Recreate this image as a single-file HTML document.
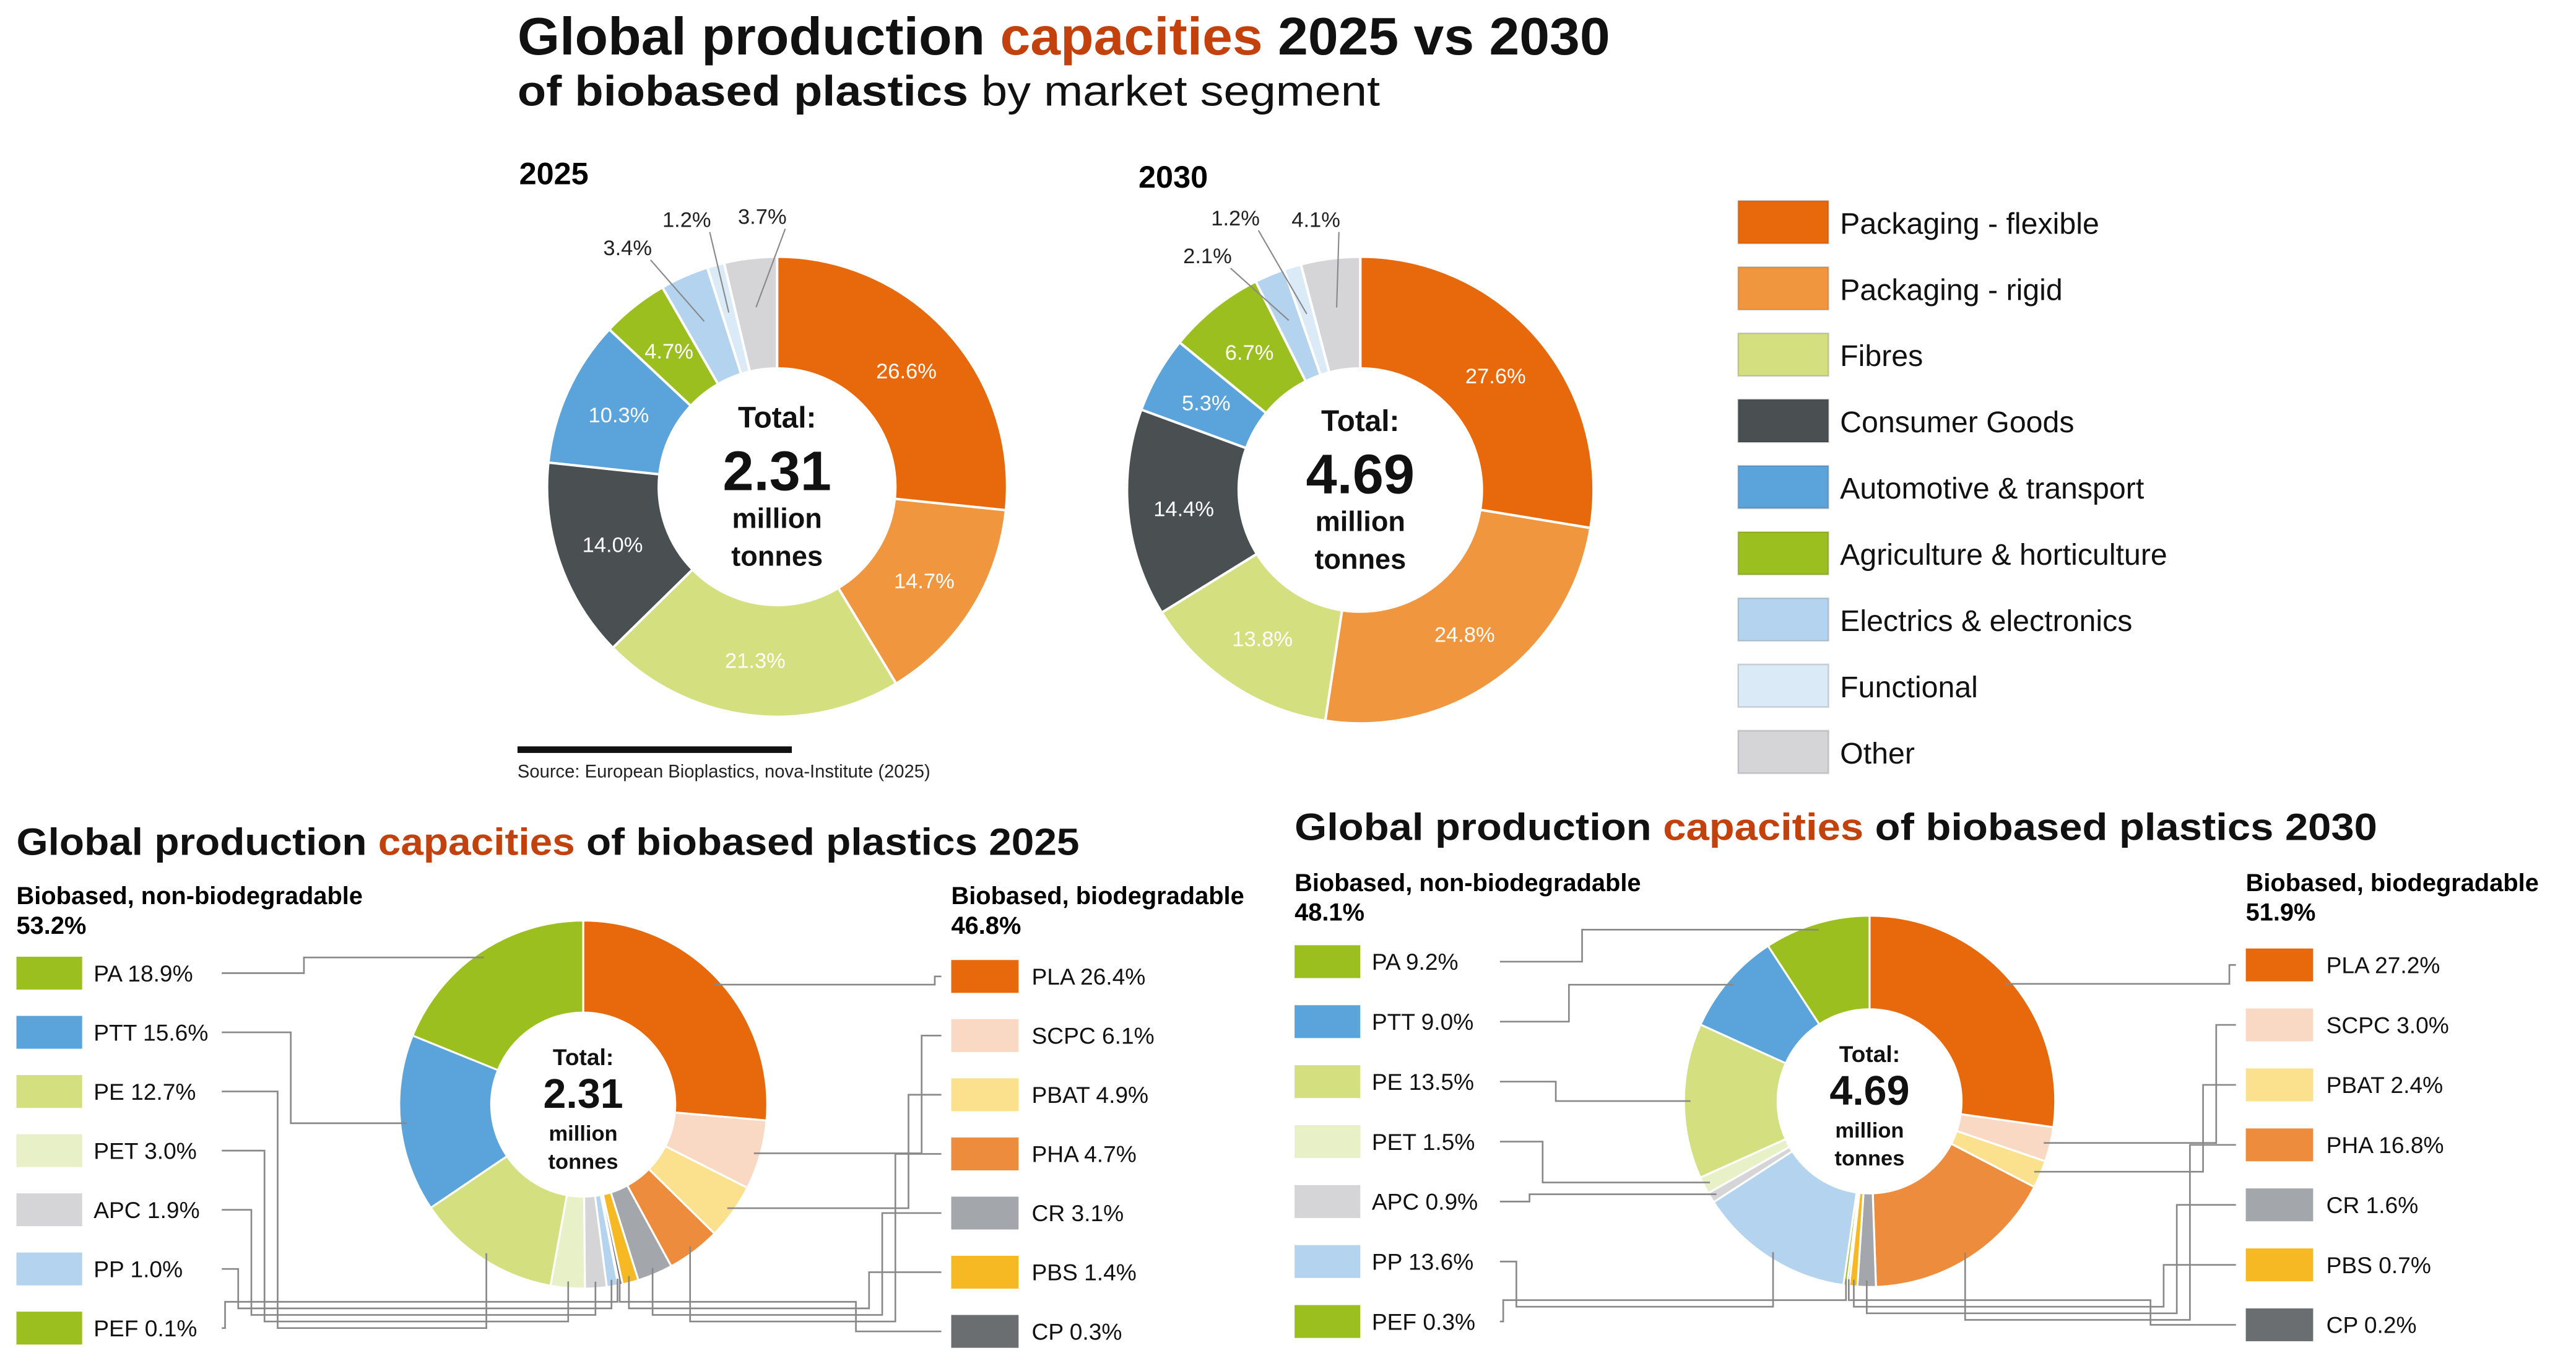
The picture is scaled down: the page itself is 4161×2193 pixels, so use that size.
<!DOCTYPE html>
<html><head><meta charset="utf-8">
<style>
html,body{margin:0;padding:0;background:#fff;}
svg{display:block;font-family:"Liberation Sans",Arial,sans-serif;}
</style></head>
<body>
<svg id="chart" width="4161" height="2193" viewBox="0 0 1568 826" xmlns="http://www.w3.org/2000/svg">
<rect width="1568" height="826" fill="#fff"/>
<g>
<text x="315" y="33" font-size="32" font-weight="bold" fill="#111" textLength="665" lengthAdjust="spacingAndGlyphs">Global production <tspan fill="#c2410c">capacities</tspan> 2025 vs 2030</text>
<text x="315" y="64" font-size="26" fill="#111" textLength="525" lengthAdjust="spacingAndGlyphs"><tspan font-weight="bold">of biobased plastics</tspan> by market segment</text>
</g>
<text x="316" y="112" font-size="19" font-weight="bold">2025</text>
<text x="693" y="114" font-size="19" font-weight="bold">2030</text>
<rect x="315" y="454" width="167" height="4" fill="#111"/>
<text x="315" y="473" font-size="11" fill="#222">Source: European Bioplastics, nova-Institute (2025)</text>

<text x="10" y="520" font-size="23" font-weight="bold" fill="#111" textLength="647" lengthAdjust="spacingAndGlyphs">Global production <tspan fill="#c2410c">capacities</tspan> of biobased plastics 2025</text>
<text x="10" y="550" font-size="15" font-weight="bold">Biobased, non-biodegradable</text>
<text x="10" y="568" font-size="15" font-weight="bold">53.2%</text>
<text x="579" y="550" font-size="15" font-weight="bold">Biobased, biodegradable</text>
<text x="579" y="568" font-size="15" font-weight="bold">46.8%</text>

<text x="788" y="511" font-size="23" font-weight="bold" fill="#111" textLength="659" lengthAdjust="spacingAndGlyphs">Global production <tspan fill="#c2410c">capacities</tspan> of biobased plastics 2030</text>
<text x="788" y="542" font-size="15" font-weight="bold">Biobased, non-biodegradable</text>
<text x="788" y="560" font-size="15" font-weight="bold">48.1%</text>
<text x="1367" y="542" font-size="15" font-weight="bold">Biobased, biodegradable</text>
<text x="1367" y="560" font-size="15" font-weight="bold">51.9%</text>
</svg>
<script>
const segments=["Packaging - flexible","Packaging - rigid","Fibres","Consumer Goods","Automotive & transport","Agriculture & horticulture","Electrics & electronics","Functional","Other"];
const values2025=[26.6,14.7,21.3,14.0,10.3,4.7,3.4,1.2,3.7];
const values2030=[27.6,24.8,13.8,14.4,5.3,6.7,2.1,1.2,4.1];
const segColors=["#e8690c","#f0963f","#d4df80","#4a4f52","#5ba4db","#9bbf1e","#b3d3ee","#dbeaf7","#d5d5d8"];
const bioNames=["PLA","SCPC","PBAT","PHA","CR","PBS","CP"];
const bio2025=[26.4,6.1,4.9,4.7,3.1,1.4,0.3];
const nonNames=["PA","PTT","PE","PET","APC","PP","PEF"];
const non2025=[18.9,15.6,12.7,3.0,1.9,1.0,0.1];
const bio2030=[27.2,3.0,2.4,16.8,1.6,0.7,0.2];
const non2030=[9.2,9.0,13.5,1.5,0.9,13.6,0.3];
const bioColors=["#e8690c","#fad9c4","#fbe08e","#ee8c3e","#a3a7ab","#f7b923","#6b6e70"];
const nonColors=["#9bbf1e","#5ba4db","#d4df80","#e8f0c8","#d5d5d8","#b3d3ee","#9bbf1e"];

const NS="http://www.w3.org/2000/svg";
const svg=document.getElementById('chart');
function mk(tag,attrs,parent){const e=document.createElementNS(NS,tag);for(const k in attrs)e.setAttribute(k,attrs[k]);(parent||svg).appendChild(e);return e;}
function pt(cx,cy,r,frac){const a=-Math.PI/2+2*Math.PI*frac;return [cx+r*Math.cos(a),cy+r*Math.sin(a)];}
function arc(cx,cy,R,r,f0,f1){const [x0,y0]=pt(cx,cy,R,f0),[x1,y1]=pt(cx,cy,R,f1),[x2,y2]=pt(cx,cy,r,f1),[x3,y3]=pt(cx,cy,r,f0);const lg=(f1-f0)>0.5?1:0;
return `M${x0},${y0}A${R},${R} 0 ${lg} 1 ${x1},${y1}L${x2},${y2}A${r},${r} 0 ${lg} 0 ${x3},${y3}Z`;}

function center(cx,cy,total,big){
 const g=mk('g',{});
 
 
 const lines=big?[["Total:",18,-36],[total,34,2],["million",17,25],["tonnes",17,48]]:[["Total:",14,-24],[total,25,2],["million",13,22],["tonnes",13,39]];
 lines.forEach(l=>{const t=mk('text',{x:cx,y:cy+l[2],'text-anchor':'middle','font-size':l[1],'font-weight':'bold',fill:'#111'},g);t.textContent=l[0];});
}

function topDonut(cx,cy,R,r,vals,total,tag,labelPos){
 const sum=vals.reduce((a,b)=>a+b,0);let c=0;
 vals.forEach((v,i)=>{
  const f0=c/sum,f1=(c+v)/sum;c+=v;
  const p=mk('path',{d:arc(cx,cy,R,r,f0,f1),fill:segColors[i],stroke:'#fff','stroke-width':1.5});
  
  
  const fm=(f0+f1)/2;
  if(!labelPos[i]){const [x,y]=pt(cx,cy,(R+r)/2,fm);const t=mk('text',{x:x,y:y+5,'text-anchor':'middle','font-size':13,fill:'#fff'});t.textContent=v.toFixed(1)+'%';
   }
  else{const [x0,y0]=pt(cx,cy,R-30,fm);const lx=labelPos[i][0],ly=labelPos[i][1];
   const l=mk('polyline',{points:`${x0},${y0} ${lx+ (lx<cx?14:-6)},${ly+8}`,fill:'none',stroke:'#888','stroke-width':0.8});
   
   const t=mk('text',{x:lx,y:ly+5,'text-anchor':'middle','font-size':13,fill:'#222'});t.textContent=v.toFixed(1)+'%';
   }
 });
 center(cx,cy,total,true);
}
topDonut(473,296,140,72,values2025,"2.31","donut-2025",[null,null,null,null,null,null,[382,150],[418,133],[464,131]]);
topDonut(828,298,142,74,values2030,"4.69","donut-2030",[null,null,null,null,null,null,[735,155],[752,132],[801,133]]);

segments.forEach((s,i)=>{
 const y=122+i*40.3;
 const b=mk('rect',{x:1058,y:y,width:55,height:26,fill:segColors[i],stroke:'rgba(0,0,0,0.15)','stroke-width':1});
 
 const t=mk('text',{x:1120,y:y+20,'font-size':18.2,fill:'#111'});t.textContent=s;
 
});

function bottomDonut(cx,cy,R,r,bio,non,total,tag,lx,ly0,rx,ry0,step){
 const vals=bio.concat(non.slice().reverse());
 const cols=bioColors.concat(nonColors.slice().reverse());
 const sum=vals.reduce((a,b)=>a+b,0);let c=0;const mids=[];
 vals.forEach((v,i)=>{const f0=c/sum,f1=(c+v)/sum;c+=v;mids.push((f0+f1)/2);
  const p=mk('path',{d:arc(cx,cy,R,r,f0,f1),fill:cols[i],stroke:'#fff','stroke-width':1.2});
  });
 center(cx,cy,total,false);
 bio.forEach((v,i)=>{const y=ry0+i*step;
  const b=mk('rect',{x:rx,y:y-10,width:41,height:20,fill:bioColors[i]});
  const t=mk('text',{x:rx+49,y:y+5,'font-size':14,fill:'#111'});t.textContent=bioNames[i]+' '+v.toFixed(1)+'%';
  
  const [px,py]=pt(cx,cy,R-4,mids[i]);const ex=rx-10-i*8;const ty=cy+R+8+(6-i)*4;
  const pts=py>cy+R*0.6?`${rx-6},${y} ${ex},${y} ${ex},${ty} ${px},${ty} ${px},${py}`:`${rx-6},${y} ${ex},${y} ${ex},${py} ${px},${py}`;
  const l=mk('polyline',{points:pts,fill:'none',stroke:'#888','stroke-width':1});
 });
 non.forEach((v,i)=>{const y=ly0+i*step;const mi=vals.length-1-i;
  const b=mk('rect',{x:lx,y:y-10,width:40,height:20,fill:nonColors[i]});
  const t=mk('text',{x:lx+47,y:y+5,'font-size':14,fill:'#111'});t.textContent=nonNames[i]+' '+v.toFixed(1)+'%';
  
  const [px,py]=pt(cx,cy,R-4,mids[mi]);const sx=lx+125;const ex=lx+175-i*8;const ty=cy+R+8+(6-i)*4;
  const pts=py>cy+R*0.6?`${sx},${y} ${ex},${y} ${ex},${ty} ${px},${ty} ${px},${py}`:`${sx},${y} ${ex},${y} ${ex},${py} ${px},${py}`;
  const l=mk('polyline',{points:pts,fill:'none',stroke:'#888','stroke-width':1});
 });
}
bottomDonut(355,672,112,56,bio2025,non2025,"2.31","donut-bottom-2025",10,592,579,594,36);
bottomDonut(1138,670,113,56,bio2030,non2030,"4.69","donut-bottom-2030",788,585,1367,587,36.5);
</script>
</body></html>
